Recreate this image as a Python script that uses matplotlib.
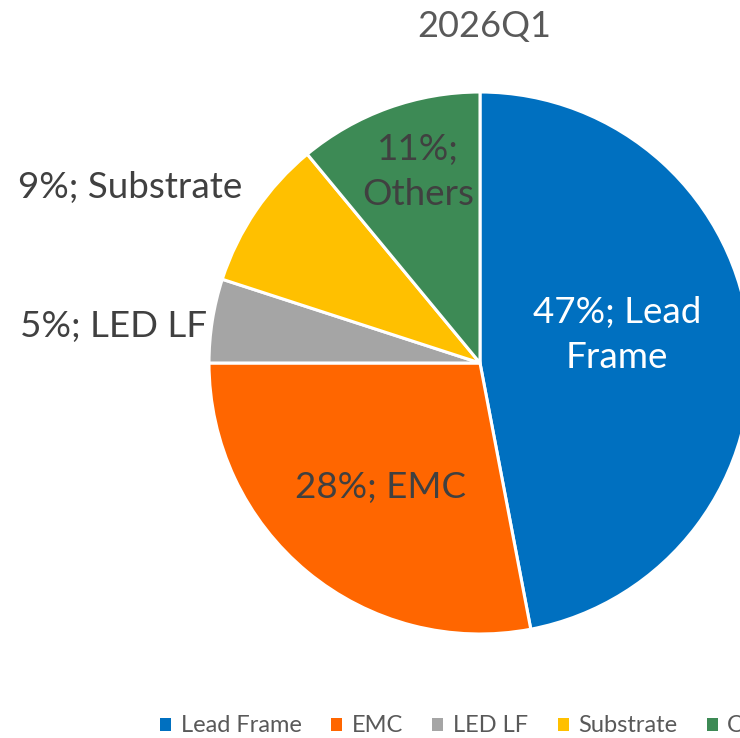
import matplotlib
matplotlib.use("Agg")
import matplotlib.pyplot as plt
from matplotlib.patches import Patch

categories = ["Lead Frame", "EMC", "LED LF", "Substrate", "Others"]
values = [47, 28, 5, 9, 11]
colors = ["#0070C0", "#FF6600", "#A5A5A5", "#FFC000", "#3D8A55"]
title = "2026Q1"

plt.rcParams['font.family'] = ['Lato', 'DejaVu Sans']

W, H = 740, 738
fig = plt.figure(figsize=(W / 100, H / 100), dpi=100)
cx, cy, r = 480, 363, 271
ax = fig.add_axes([(cx - r) / W, (H - cy - r) / H, 2 * r / W, 2 * r / H])
wedges, _ = ax.pie(values, colors=colors, startangle=90, counterclock=False,
                   radius=1, wedgeprops=dict(edgecolor="white", linewidth=2.2))
ax.set_xlim(-1, 1)
ax.set_ylim(-1, 1)
for w in wedges:
    w.set_clip_on(False)

label_pos = [(0.506, 0.103), (-0.369, -0.458), (-1.354, 0.133), (-1.292, 0.646), (-0.229, 0.705)]
label_txt = ["47%; Lead\nFrame", "28%; EMC", "5%; LED LF", "9%; Substrate", "11%;\nOthers"]
label_col = ["white", "#404040", "#404040", "#404040", "#404040"]
for (x, y), t, c in zip(label_pos, label_txt, label_col):
    ax.text(x, y, t, ha="center", va="center", fontsize=26.5, color=c,
            linespacing=1.45, clip_on=False)

fig.text(484 / W, 1 - 26 / H, title, ha="center", va="center", fontsize=26, color="#595959")

handles = [Patch(facecolor=c, edgecolor="none") for c in colors]
fig.legend(handles, categories, loc="center left", bbox_to_anchor=(160 / W, 1 - 726 / H),
           ncol=5, frameon=False, fontsize=17, handlelength=0.47, handleheight=0.47,
           handletextpad=0.4, columnspacing=1.25, borderpad=0, borderaxespad=0,
           labelcolor="#595959")

fig.savefig("out.png", dpi=100)
